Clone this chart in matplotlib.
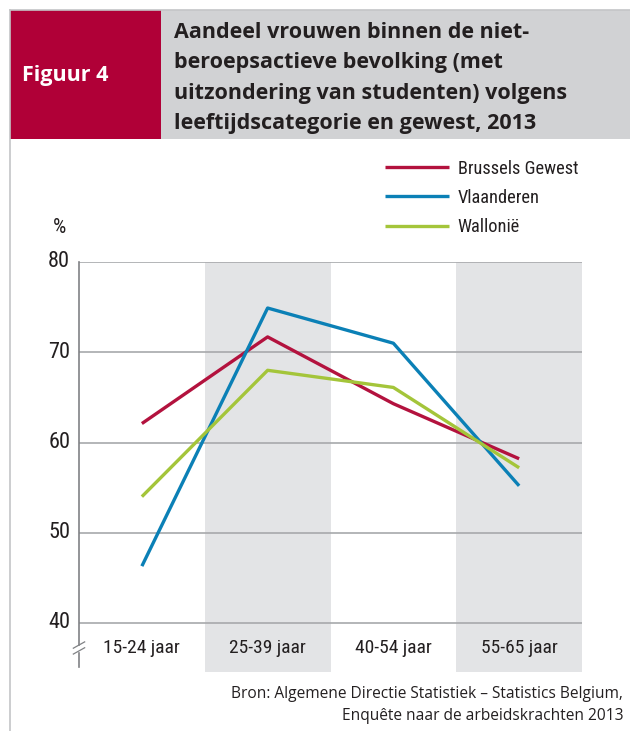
import matplotlib
matplotlib.use("Agg")
import matplotlib.pyplot as plt
from matplotlib.lines import Line2D
from matplotlib.patches import Rectangle

categories = ["15-24 jaar", "25-39 jaar", "40-54 jaar", "55-65 jaar"]
brussel = [62.1, 71.7, 64.3, 58.2]
vlaanderen = [46.3, 74.9, 71.0, 55.2]
wallonie = [54.0, 68.0, 66.1, 57.2]
series_names = ["Brussels Gewest", "Vlaanderen", "Wallonië"]
yticks = [40, 50, 60, 70, 80]

red = "#b3123e"
blue = "#0b80b6"
green = "#a4c53a"
narrow = ["Roboto Condensed", "Roboto", "DejaVu Sans"]

fig = plt.figure(figsize=(6.3, 7.31), dpi=100)
W, H = 630, 731

def fx(px):
    return px / W

def fy(py):
    return 1 - py / H

# header boxes
fig.patches.append(Rectangle((fx(10), fy(139)), fx(151), 129 / H, transform=fig.transFigure,
                             facecolor="#b00037", edgecolor="none"))
fig.patches.append(Rectangle((fx(161), fy(139)), fx(469), 129 / H, transform=fig.transFigure,
                             facecolor="#d1d2d4", edgecolor="none"))
fig.lines.append(Line2D([fx(10), 1], [fy(10), fy(10)], transform=fig.transFigure, color="#c4c5c7", lw=1.2))
fig.lines.append(Line2D([fx(10), fx(10)], [fy(10), 0], transform=fig.transFigure, color="#c4c5c7", lw=1.2))

fig.text(fx(22), fy(75), "Figuur 4", color="white", fontsize=15.5, fontweight="bold",
         family=["Open Sans", "DejaVu Sans"], va="center", ha="left")
title = ("Aandeel vrouwen binnen de niet-\nberoepsactieve bevolking (met\n"
         "uitzondering van studenten) volgens\nleeftijdscategorie en gewest, 2013")
fig.text(fx(174), fy(78), title, color="#231f20", fontsize=15.5, fontweight="bold",
         family=["Open Sans", "DejaVu Sans"], va="center", ha="left", linespacing=1.57)

# plot area: 80 at y=262, 40 at y=623, bottom of bands at 672
ppu = (623 - 262) / 40
ymin = 40 - (672 - 623) / ppu
ax = fig.add_axes([fx(79), fy(672), fx(582 - 79), (672 - 262) / H])
ax.set_xlim(-0.5, 3.5)
ax.set_ylim(ymin, 80)
for s in ax.spines.values():
    s.set_visible(False)
ax.set_xticks([])
ax.set_yticks([])

for i in [1, 3]:
    ax.axvspan(i - 0.5, i + 0.5, color="#e3e4e6", zorder=0, lw=0)
for v in yticks:
    ax.axhline(v, color="#a7a9ac", lw=1.2, zorder=1)
    ax.text(-0.57, v, str(v), ha="right", va="center", fontsize=16, family=narrow, color="#231f20")
ax.text(-0.6, 83.8, "%", ha="right", va="center", fontsize=15, family=narrow, color="#231f20")

# left axis with break mark
y_brk = 40 - (650 - 623) / ppu
y_end = 40 - (667 - 623) / ppu
ax.plot([-0.5, -0.5], [80, y_brk + 0.5], color="#808285", lw=1.2, clip_on=False, zorder=3)
ax.plot([-0.5, -0.5], [y_brk - 0.3, y_end], color="#808285", lw=1.2, clip_on=False, zorder=3)
for d in [0.55, -0.1]:
    ax.plot([-0.545, -0.455], [y_brk + d - 0.35, y_brk + d + 0.35], color="#808285", lw=0.9,
            clip_on=False, zorder=3)

x = list(range(len(categories)))
ax.plot(x, brussel, color=red, lw=2.4, label=series_names[0], zorder=4, solid_capstyle="butt")
ax.plot(x, vlaanderen, color=blue, lw=2.4, label=series_names[1], zorder=4, solid_capstyle="butt")
ax.plot(x, wallonie, color=green, lw=2.4, label=series_names[2], zorder=4, solid_capstyle="butt")

for i, c in enumerate(categories):
    ax.text(i, 40 - (648 - 623) / ppu, c, ha="center", va="center", fontsize=14, family=narrow,
            color="#231f20")

leg = fig.legend(loc="upper left", bbox_to_anchor=(fx(368), fy(143)), frameon=False,
                 handlelength=3.5, handletextpad=0.5, labelspacing=0.62,
                 prop={"family": narrow, "size": 13.2})
for t in leg.get_texts():
    t.set_color("#231f20")

fig.text(fx(623), fy(694), "Bron: Algemene Directie Statistiek \u2013 Statistics Belgium,",
         ha="right", va="center", fontsize=11.2, family=["Open Sans", "DejaVu Sans"], color="#231f20")
fig.text(fx(623), fy(716), "Enquête naar de arbeidskrachten 2013",
         ha="right", va="center", fontsize=11.2, family=["Open Sans", "DejaVu Sans"], color="#231f20")

fig.savefig("out.png", dpi=100)
